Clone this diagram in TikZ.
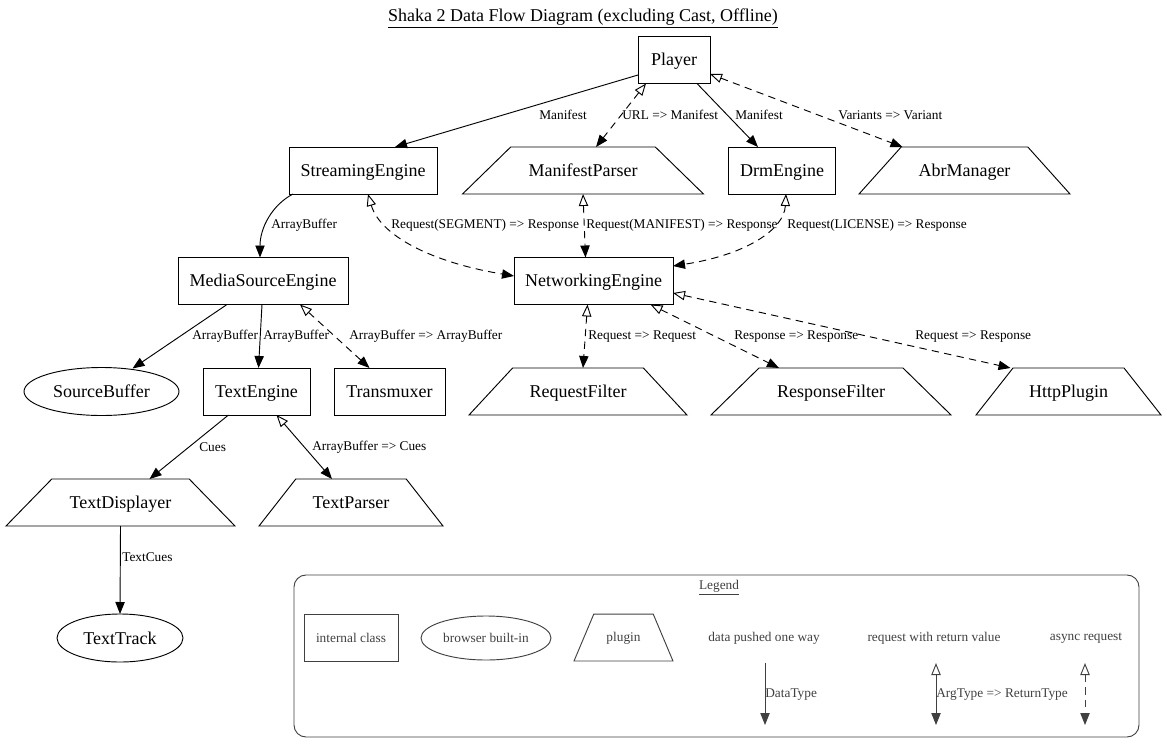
\documentclass[tikz,border=0pt]{standalone}
\usepackage{fontspec}
\setmainfont{Liberation Serif}
\usetikzlibrary{shapes.geometric,arrows.meta,calc}
\definecolor{lgray}{RGB}{64,64,64}
\begin{document}
\begin{tikzpicture}[x=0.75pt,y=-0.75pt,
  every node/.style={inner sep=0pt, outer sep=0pt},
  base/.style={draw=black, line width=0.7pt, font=\fontsize{13.5}{16}\selectfont, text height=22.1pt, text depth=13.15pt},
  cls/.style={base, rectangle},
  builtin/.style={base, ellipse, text height=9pt, text depth=0pt, minimum height=36pt},
  plug/.style 2 args={base, trapezium, trapezium left angle=#2, trapezium right angle=#2, text width=#1, align=center},
  lbl/.style={font=\fontsize{10}{12}\selectfont, anchor=west, inner sep=1pt},
  flow/.style={draw, line width=0.7pt, -{Triangle[length=9pt,width=7pt]}},
  req/.style={draw, line width=0.7pt, {Triangle[open,length=9pt,width=7pt]}-{Triangle[length=9pt,width=7pt]}},
  async/.style={req, dash pattern=on 5.5pt off 4pt},
  legtext/.style={font=\fontsize{10}{12}\selectfont, text=lgray},
  legnode/.style={draw=lgray, text=lgray, font=\fontsize{10}{12}\selectfont, text height=20.9pt, text depth=14.3pt},
]
\useasboundingbox (0,0) rectangle (1167,753);

% title
\node[font=\fontsize{13.5}{16}\selectfont] (title) at (583,18) {\underline{Shaka 2 Data Flow Diagram (excluding Cast, Offline)}};

% nodes
\node[cls, minimum width=54pt] (player) at (674,60) {Player};
\node[cls, minimum width=111pt] (se) at (363,170.5) {StreamingEngine};
\node[plug={108.45pt}{44.28}] (mp) at (583,170.5) {ManifestParser};
\node[cls, minimum width=80.25pt] (drm) at (782,170.5) {DrmEngine};
\node[plug={94.95pt}{48.08}] (abr) at (964.5,170.5) {AbrManager};
\node[cls, minimum width=119.25pt] (ne) at (593.5,281) {NetworkingEngine};
\node[cls, minimum width=127.5pt] (mse) at (263,281) {MediaSourceEngine};
\node[builtin, minimum width=116.25pt] (sb) at (101.5,391.5) {SourceBuffer};
\node[cls, minimum width=80.25pt] (te) at (256.5,391.5) {TextEngine};
\node[cls, minimum width=83.25pt] (tx) at (389.5,391.5) {Transmuxer};
\node[plug={98.1pt}{47.15}] (rf) at (578,391.5) {RequestFilter};
\node[plug={108pt}{44.39}] (resf) at (831,391.5) {ResponseFilter};
\node[plug={83.25pt}{51.78}] (http) at (1068.5,391.5) {HttpPlugin};
\node[plug={103.05pt}{45.74}] (td) at (120.5,502.5) {TextDisplayer};
\node[plug={82.8pt}{51.94}] (tp) at (351,502.5) {TextParser};
\node[builtin, minimum width=94.5pt] (tt) at (120,638) {TextTrack};

% edges
\draw[flow] ($(player.west)+(0,15)$) -- ($(se.north)+(32,0)$) node[lbl] at (538,115) {Manifest};
\draw[async] ($(player.south)+(-28,0)$) -- ($(mp.north)+(13,0)$) node[lbl] at (621,115) {URL => Manifest};
\draw[flow] ($(player.south)+(23,0)$) -- ($(drm.north)+(-24,0)$) node[lbl] at (734,115) {Manifest};
\draw[async] ($(player.east)+(0,14)$) -- ($(abr.north)+(-62,0)$) node[lbl] at (837,115) {Variants => Variant};

\draw[flow] ($(se.south west)+(4,0)$) .. controls (272,205) and (260,228) .. ($(mse.north)+(-3,0)$) node[lbl] at (270,225) {ArrayBuffer};
\draw[async] ($(se.south)+(5,0)$) .. controls (380,235) and (430,262) .. ($(ne.west)+(0,-5)$) node[lbl] at (390,225) {Request(SEGMENT) => Response};
\draw[async] (mp.south) -- ($(ne.north)+(-8,0)$) node[lbl] at (585,225) {Request(MANIFEST) => Response};
\draw[async] ($(drm.south)+(4,0)$) .. controls (784,230) and (745,255) .. ($(ne.east)+(0,-15)$) node[lbl] at (786,225) {Request(LICENSE) => Response};

\draw[flow] ($(mse.south)+(-36,0)$) -- ($(sb.north)+(31,1)$) node[lbl] at (191,336) {ArrayBuffer};
\draw[flow] ($(mse.south)+(-1,0)$) -- ($(te.north)+(2,0)$) node[lbl] at (262,336) {ArrayBuffer};
\draw[async] ($(mse.south)+(37,0)$) -- ($(tx.north)+(-20,0)$) node[lbl] at (348,336) {ArrayBuffer => ArrayBuffer};

\draw[async] ($(ne.south)+(-6,0)$) -- ($(rf.north)+(5,0)$) node[lbl] at (587,337) {Request => Request};
\draw[async] ($(ne.south)+(57,0)$) -- ($(resf.north)+(-52,0)$) node[lbl] at (733,337) {Response => Response};
\draw[async] ($(ne.east)+(0,12)$) -- ($(http.north)+(-58,0)$) node[lbl] at (914,337) {Request => Response};

\draw[flow] ($(te.south)+(-28,0)$) -- ($(td.north)+(29,0)$) node[lbl] at (198,447) {Cues};
\draw[req] ($(te.south)+(20,0)$) -- ($(tp.north)+(-19,0)$) node[lbl] at (311,447) {ArrayBuffer => Cues};
\draw[flow] (td.south) -- (tt.north) node[lbl] at (121,557) {TextCues};

% legend
\node[draw=lgray, line width=0.7pt, rounded corners=9pt, minimum width=633.75pt, minimum height=121.5pt] (legend) at (716.5,656) {};
\node[legtext] (legtitle) at (719,588) {\underline{Legend}};
\node[cls, legnode, minimum width=70.5pt] (lcls) at (351,638) {internal class};
\node[builtin, legnode, text height=7pt, text depth=0.4pt, minimum width=97.5pt, minimum height=33pt] (lbi) at (486,638) {browser built-in};
\node[plug={44.55pt}{67.16}, legnode] (lplug) at (623.5,637.5) {plugin};
\node[legtext] (ldata) at (764,638) {data pushed one way};
\node[legtext] (lreq) at (934,638) {request with return value};
\node[legtext] (lasync) at (1086,638) {async request};

\coordinate (d1) at (765,663);
\coordinate (d2) at (765,725);
\coordinate (r1) at (936,663);
\coordinate (r2) at (936,725);
\coordinate (a1) at (1085,663);
\coordinate (a2) at (1085,725);
\draw[flow, lgray] (d1) -- (d2) node[lbl, text=lgray] at (764,695) {DataType};
\draw[req, lgray] (r1) -- (r2) node[lbl, text=lgray] at (935,695) {ArgType => ReturnType};
\draw[async, lgray] (a1) -- (a2);
\end{tikzpicture}
\end{document}
